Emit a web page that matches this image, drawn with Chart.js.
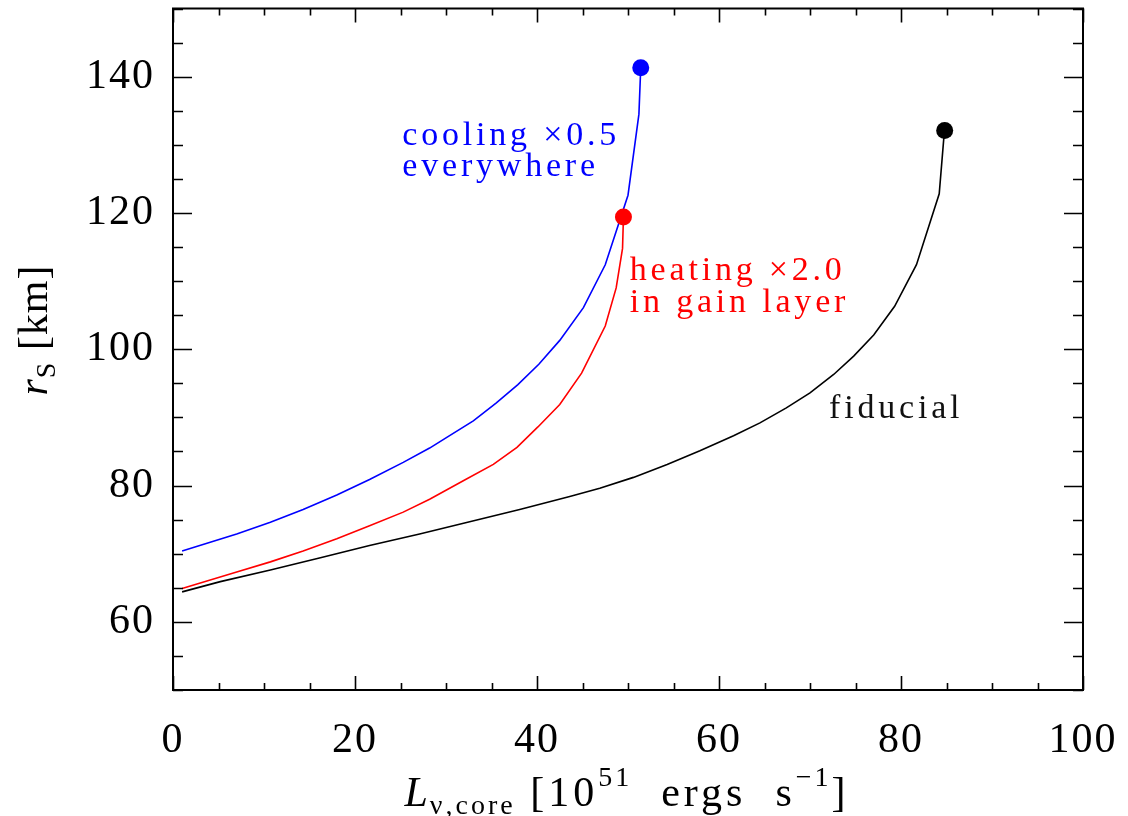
<!DOCTYPE html>
<html>
<head>
<meta charset="utf-8">
<script src="https://cdn.jsdelivr.net/npm/chart.js@4.4.1/dist/chart.umd.min.js"></script>
<style>
  html, body { margin: 0; padding: 0; background: #fff; }
  canvas { display: block; }
</style>
</head>
<body>
<canvas id="c" width="1128" height="816"></canvas>
<script>
// ---- data ----
const xTickLabels = [0, 20, 40, 60, 80, 100];
const yTickLabels = [60, 80, 100, 120, 140];

const fiducialL = [1.0, 5.2, 10.7, 16.2, 21.6, 27.1, 32.6, 38.1, 43.6, 46.9, 50.6, 54.3, 57.9, 61.6, 64.5, 67.4, 70.0, 72.6, 74.8, 77.0, 79.3, 81.7, 84.2, 84.7, 84.8];
const fiducialR = [64.4, 65.9, 67.6, 69.4, 71.2, 72.9, 74.7, 76.5, 78.4, 79.6, 81.2, 83.1, 85.1, 87.3, 89.2, 91.4, 93.6, 96.3, 99.0, 102.1, 106.3, 112.4, 122.8, 130.9, 132.1];

const heatingL = [1.0, 7.0, 10.7, 14.3, 18.0, 21.6, 25.3, 28.2, 31.9, 35.2, 37.8, 40.1, 42.5, 44.9, 47.5, 48.7, 49.4, 49.5];
const heatingR = [64.9, 67.3, 68.8, 70.4, 72.2, 74.1, 76.1, 78.0, 80.7, 83.1, 85.6, 88.6, 91.9, 96.5, 103.4, 109.0, 114.8, 119.4];

const coolingL = [1.0, 7.0, 10.7, 14.3, 18.0, 21.6, 25.3, 28.2, 30.0, 33.0, 35.5, 37.9, 40.2, 42.5, 45.1, 47.5, 50.0, 51.2, 51.4];
const coolingR = [70.4, 72.9, 74.6, 76.5, 78.6, 80.9, 83.4, 85.5, 87.0, 89.5, 92.1, 94.8, 97.8, 101.3, 106.1, 112.4, 122.6, 134.5, 141.3];

const seriesNames = ['fiducial', 'heating', 'cooling'];
const annotationLines = {
  cooling: ['cooling \u00d70.5', 'everywhere'],
  heating: ['heating \u00d72.0', 'in gain layer'],
  fiducial: ['fiducial']
};

const SERIF = '"Liberation Serif", "DejaVu Serif", serif';

function pts(xs, ys) { return xs.map((x, i) => ({ x: x, y: ys[i] })); }

function makeDataset(label, xs, ys, color) {
  return {
    label: label,
    data: pts(xs, ys),
    showLine: true,
    borderColor: color,
    backgroundColor: color,
    borderWidth: 1.6,
    tension: 0,
    pointRadius: (ctx) => ctx.dataIndex === xs.length - 1 ? 8.5 : 0,
    pointHoverRadius: (ctx) => ctx.dataIndex === xs.length - 1 ? 8.5 : 0,
    pointBorderWidth: 0,
    pointBackgroundColor: color,
    clip: false
  };
}

function zeroPad(s) { s.paddingTop = 0; s.paddingBottom = 0; s.paddingLeft = 0; s.paddingRight = 0; }

// plugin: inward ticks, frame, annotations and axis titles
const framePlugin = {
  id: 'frame',
  beforeDraw(chart) {
    chart.ctx.letterSpacing = '2px';
  },
  afterDraw(chart) {
    const ctx = chart.ctx;
    const a = chart.chartArea;
    const xs = chart.scales.x, ys = chart.scales.y;
    ctx.save();
    ctx.letterSpacing = '0px';
    ctx.strokeStyle = '#000';
    ctx.lineWidth = 2;
    ctx.strokeRect(a.left, a.top, a.right - a.left, a.bottom - a.top);
    ctx.lineWidth = 1.6;
    ctx.beginPath();
    for (let v = xs.min; v <= xs.max + 1e-9; v += 5) {
      const px = Math.round(xs.getPixelForValue(v)) + 0.5;
      const len = (v % 20 === 0) ? 14 : 7;
      ctx.moveTo(px, a.bottom); ctx.lineTo(px, a.bottom - len);
      ctx.moveTo(px, a.top); ctx.lineTo(px, a.top + len);
    }
    for (let v = ys.min; v <= ys.max + 1e-9; v += 5) {
      const py = Math.round(ys.getPixelForValue(v)) + 0.5;
      const len = (v % 20 === 0) ? 19 : 10;
      ctx.moveTo(a.left, py); ctx.lineTo(a.left + len, py);
      ctx.moveTo(a.right, py); ctx.lineTo(a.right - len, py);
    }
    ctx.stroke();

    // annotations
    ctx.font = '34px ' + SERIF;
    ctx.letterSpacing = '3.8px';
    ctx.textAlign = 'left';
    ctx.textBaseline = 'alphabetic';
    const ann = [
      { key: 'cooling', color: '#0000ff', x: 25.2, y: 130.0, dy: 31 },
      { key: 'heating', color: '#ff0000', x: 50.2, y: 110.1, dy: 32 },
      { key: 'fiducial', color: '#111111', x: 72.1, y: 89.9, dy: 32 }
    ];
    ann.forEach(o => {
      ctx.fillStyle = o.color;
      const px = xs.getPixelForValue(o.x);
      const py = ys.getPixelForValue(o.y);
      annotationLines[o.key].forEach((t, i) => ctx.fillText(t, px, py + i * o.dy));
    });

    // x axis title
    const mainF = '42px ' + SERIF, itF = 'italic 42px ' + SERIF, smF = '28px ' + SERIF;
    const xParts = [
      { t: 'L', f: itF, dy: 0, ls: 2 },
      { t: '\u03bd,core', f: smF, dy: 8, ls: 3 },
      { t: ' [10', f: mainF, dy: 0, ls: 4 },
      { t: '51', f: smF, dy: -20, ls: 3 },
      { t: '  ergs  s', f: mainF, dy: 0, ls: 4 },
      { t: '\u22121', f: smF, dy: -20, ls: 3 },
      { t: ']', f: mainF, dy: 0, ls: 0 }
    ];
    drawParts(ctx, xParts, 625, 806);

    // y axis title (rotated)
    ctx.save();
    ctx.translate(47, 330);
    ctx.rotate(-Math.PI / 2);
    const yParts = [
      { t: 'r', f: itF, dy: 0, ls: 1 },
      { t: 'S', f: smF, dy: 8, ls: 1 },
      { t: ' [km]', f: mainF, dy: 0, ls: 1 }
    ];
    drawParts(ctx, yParts, 0, 0);
    ctx.restore();
    ctx.restore();
  }
};

function drawParts(ctx, parts, cx, baseY) {
  ctx.fillStyle = '#000';
  ctx.textAlign = 'left';
  ctx.textBaseline = 'alphabetic';
  let total = 0;
  parts.forEach(p => {
    ctx.font = p.f; ctx.letterSpacing = p.ls + 'px';
    p.w = ctx.measureText(p.t).width;
    total += p.w;
  });
  let x = cx - total / 2;
  parts.forEach(p => {
    ctx.font = p.f; ctx.letterSpacing = p.ls + 'px';
    ctx.fillText(p.t, x, baseY + p.dy);
    x += p.w;
  });
}

new Chart(document.getElementById('c'), {
  type: 'scatter',
  data: {
    datasets: [
      makeDataset(seriesNames[0], fiducialL, fiducialR, '#000000'),
      makeDataset(seriesNames[1], heatingL, heatingR, '#ff0000'),
      makeDataset(seriesNames[2], coolingL, coolingR, '#0000ff')
    ]
  },
  options: {
    responsive: false,
    animation: false,
    devicePixelRatio: 1,
    layout: { padding: { top: 5, right: 45, left: 0, bottom: 0 } },
    plugins: { legend: { display: false }, tooltip: { enabled: false } },
    events: [],
    scales: {
      x: {
        type: 'linear', min: 0, max: 100,
        afterBuildTicks: (s) => { s.ticks = xTickLabels.map(v => ({ value: v })); },
        afterFit: (s) => { s.height = 126; zeroPad(s); },
        grid: { display: false, drawTicks: false },
        border: { display: false },
        ticks: { color: '#000', font: { family: SERIF, size: 42 }, padding: 26, maxRotation: 0, autoSkip: false }
      },
      y: {
        type: 'linear', min: 50, max: 150,
        afterBuildTicks: (s) => { s.ticks = yTickLabels.map(v => ({ value: v })); },
        afterFit: (s) => { s.width = 173; zeroPad(s); },
        grid: { display: false, drawTicks: false },
        border: { display: false },
        ticks: { color: '#000', font: { family: SERIF, size: 42 }, padding: 18, autoSkip: false }
      }
    }
  },
  plugins: [framePlugin]
});
</script>
</body>
</html>
